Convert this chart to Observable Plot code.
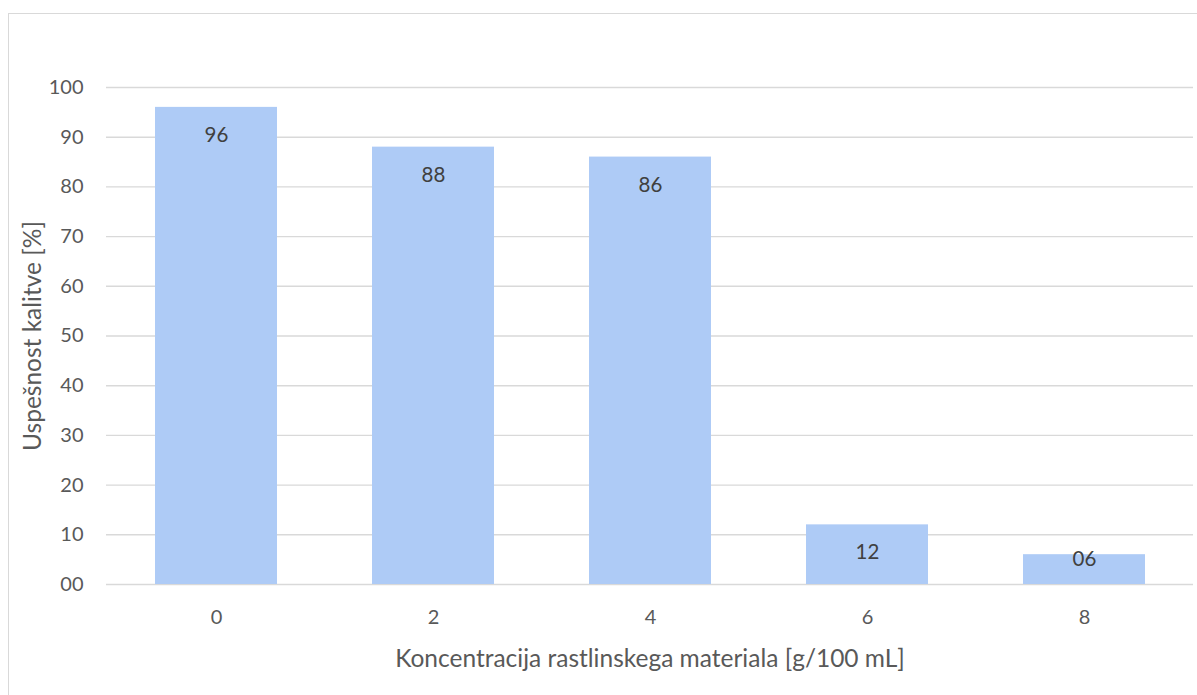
<!DOCTYPE html>
<html>
<head>
<meta charset="utf-8">
<script src="https://cdn.jsdelivr.net/npm/d3@7"></script>
<script src="https://cdn.jsdelivr.net/npm/@observablehq/plot@0.6"></script>
<style>
  html, body { margin: 0; padding: 0; background: #fff; overflow: hidden; }
  #wrap { position: relative; width: 1197px; height: 695px; }
  #frame {
    position: absolute; left: 8px; top: 13px; width: 1200px; height: 700px;
    border: 1.5px solid #d9d9d9; box-sizing: border-box; pointer-events: none;
  }
  #chart svg { display: block; }
</style>
</head>
<body>
<div id="wrap">
  <div id="frame"></div>
  <div id="chart"></div>
</div>
<script>
// Germination success by plant material concentration
const concentrations = ["0", "2", "4", "6", "8"];
const success = [96, 88, 86, 12, 6];
const yTicks = [0, 10, 20, 30, 40, 50, 60, 70, 80, 90, 100];
const xTitle = "Koncentracija rastlinskega materiala [g/100 mL]";
const yTitle = "Uspešnost kalitve [%]";

const rows = concentrations.map((c, i) => ({ conc: c, value: success[i] }));
const fmt = d3.format("02d");
const FONT = "Lato, 'Open Sans', sans-serif";

const chart = Plot.plot({
  width: 1197,
  height: 695,
  marginLeft: 106,
  marginRight: 4,
  marginTop: 87,
  marginBottom: 111,
  style: { fontFamily: FONT, fontSize: "20px", color: "#595959", background: "transparent" },
  x: { domain: concentrations, paddingInner: 0.44, paddingOuter: 0.22, label: null },
  y: { domain: [0, 100], label: null },
  marks: [
    Plot.ruleY(yTicks, { stroke: "#d9d9d9", strokeWidth: 1.4 }),
    Plot.barY(rows, { x: "conc", y: "value", fill: "#aecbf6" }),
    Plot.text(rows.filter(d => d.value >= 10), {
      x: "conc", y: "value", text: d => fmt(d.value), dy: 28,
      fill: "#404040", fontSize: 20.5
    }),
    Plot.text(rows.filter(d => d.value < 10), {
      x: "conc", y: "value", text: d => fmt(d.value), dy: 5,
      fill: "#404040", fontSize: 20.5
    }),
    Plot.axisY({
      ticks: yTicks, tickFormat: fmt, tickSize: 0, tickPadding: 23,
      fill: "#595959", fontSize: 20, label: null
    }),
    Plot.axisX({
      tickSize: 0, tickPadding: 25, fill: "#595959", fontSize: 20, label: null
    }),
    // axis titles
    Plot.text([xTitle], {
      frameAnchor: "bottom", dy: 82, text: d => d,
      fill: "#595959", fontSize: 24.5
    }),
    Plot.text([yTitle], {
      frameAnchor: "left", textAnchor: "middle", dx: -73, rotate: -90, text: d => d,
      fill: "#595959", fontSize: 24.5
    })
  ]
});

document.getElementById("chart").appendChild(chart);
</script>
</body>
</html>
